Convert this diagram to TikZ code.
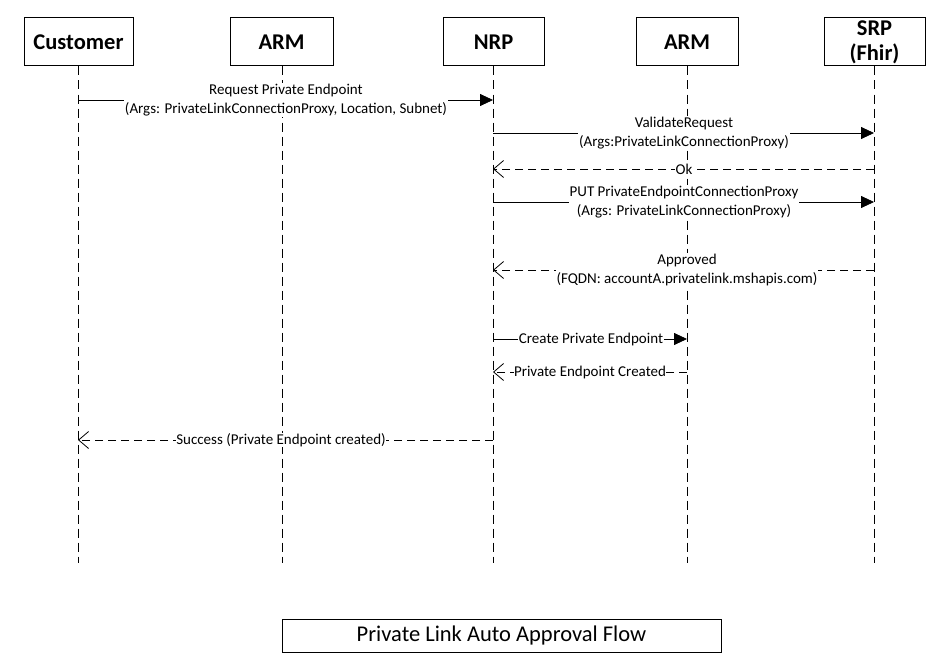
\documentclass[tikz,border=0pt]{standalone}
\usepackage{fontspec}
\setmainfont{Carlito}
\usetikzlibrary{arrows.meta}
\begin{document}
\begin{tikzpicture}[x=1pt,y=-1pt,
  head/.style={draw=black,line width=1pt,minimum height=48pt,inner sep=0pt,font=\fontsize{22.5}{22.5}\selectfont\bfseries,align=center},
  life/.style={draw=black,line width=0.8pt,dash pattern=on 9pt off 5pt},
  msg/.style={draw=black,line width=0.8pt,-{Triangle[length=13pt,width=12pt]}},
  ret/.style={draw=black,line width=0.8pt,dash pattern=on 8pt off 5pt,-{Straight Barb[length=10pt,width=17pt,line width=0.8pt]}},
  lbl/.style={fill=white,inner sep=1pt,font=\fontsize{15}{19.5}\selectfont,align=center}]
\useasboundingbox (0,0) rectangle (948,669);
\fill[white] (0,0) rectangle (948,669);
% headers
\node[head,minimum width=109pt] (cust) at (78.5,42) {Customer};
\node[head,minimum width=103pt] (arm1) at (281.5,42) {ARM};
\node[head,minimum width=101pt] (nrp) at (493.5,42) {NRP};
\node[head,minimum width=102pt] (arm2) at (687,42) {ARM};
\node[head,minimum width=101pt,font=\fontsize{22.5}{25}\selectfont\bfseries] (srp) at (874.5,42) {SRP\\(Fhir)};
% lifeline ends
\coordinate (custE) at (78,563);
\coordinate (arm1E) at (282,563);
\coordinate (nrpE) at (493,563);
\coordinate (arm2E) at (687,563);
\coordinate (srpE) at (874,563);
\draw[life] (cust.south -| custE) -- (custE);
\draw[life] (arm1.south -| arm1E) -- (arm1E);
\draw[life] (nrp.south -| nrpE) -- (nrpE);
\draw[life] (arm2.south -| arm2E) -- (arm2E);
\draw[life] (srp.south -| srpE) -- (srpE);
% messages
\draw[msg] (custE |- 0,100) -- (nrpE |- 0,100);
\node[lbl] (l1) at (286,100) {Request Private Endpoint\\(Args: PrivateLinkConnectionProxy, Location, Subnet)};
\draw[msg] (nrpE |- 0,133) -- (srpE |- 0,133);
\node[lbl] (l2) at (684,133) {ValidateRequest\\(Args:PrivateLinkConnectionProxy)};
\draw[ret] (srpE |- 0,169) -- (nrpE |- 0,169);
\node[lbl,inner sep=0.5pt] (l3) at (684,169) {Ok};
\draw[msg] (nrpE |- 0,202) -- (srpE |- 0,202);
\node[lbl] (l4) at (684,202) {PUT PrivateEndpointConnectionProxy\\(Args: PrivateLinkConnectionProxy)};
\draw[ret] (srpE |- 0,270) -- (nrpE |- 0,270);
\node[lbl] (l5) at (687,270) {Approved\\(FQDN: accountA.privatelink.mshapis.com)};
\draw[msg] (nrpE |- 0,339) -- (arm2E |- 0,339);
\node[lbl,inner sep=0.5pt] (l6) at (591,339) {Create Private Endpoint};
\draw[ret] (arm2E |- 0,372) -- (nrpE |- 0,372);
\node[lbl,inner sep=0.5pt] (l7) at (590,372) {Private Endpoint Created};
\draw[ret] (nrpE |- 0,440) -- (custE |- 0,440);
\node[lbl,inner sep=0.5pt] (l8) at (281,440) {Success (Private Endpoint created)};
% title
\node[draw=black,line width=1pt,minimum width=439pt,minimum height=33pt,inner sep=0pt,font=\fontsize{22.5}{22.5}\selectfont] (title) at (501.5,635.5) {Private Link Auto Approval Flow};
\end{tikzpicture}
\end{document}
